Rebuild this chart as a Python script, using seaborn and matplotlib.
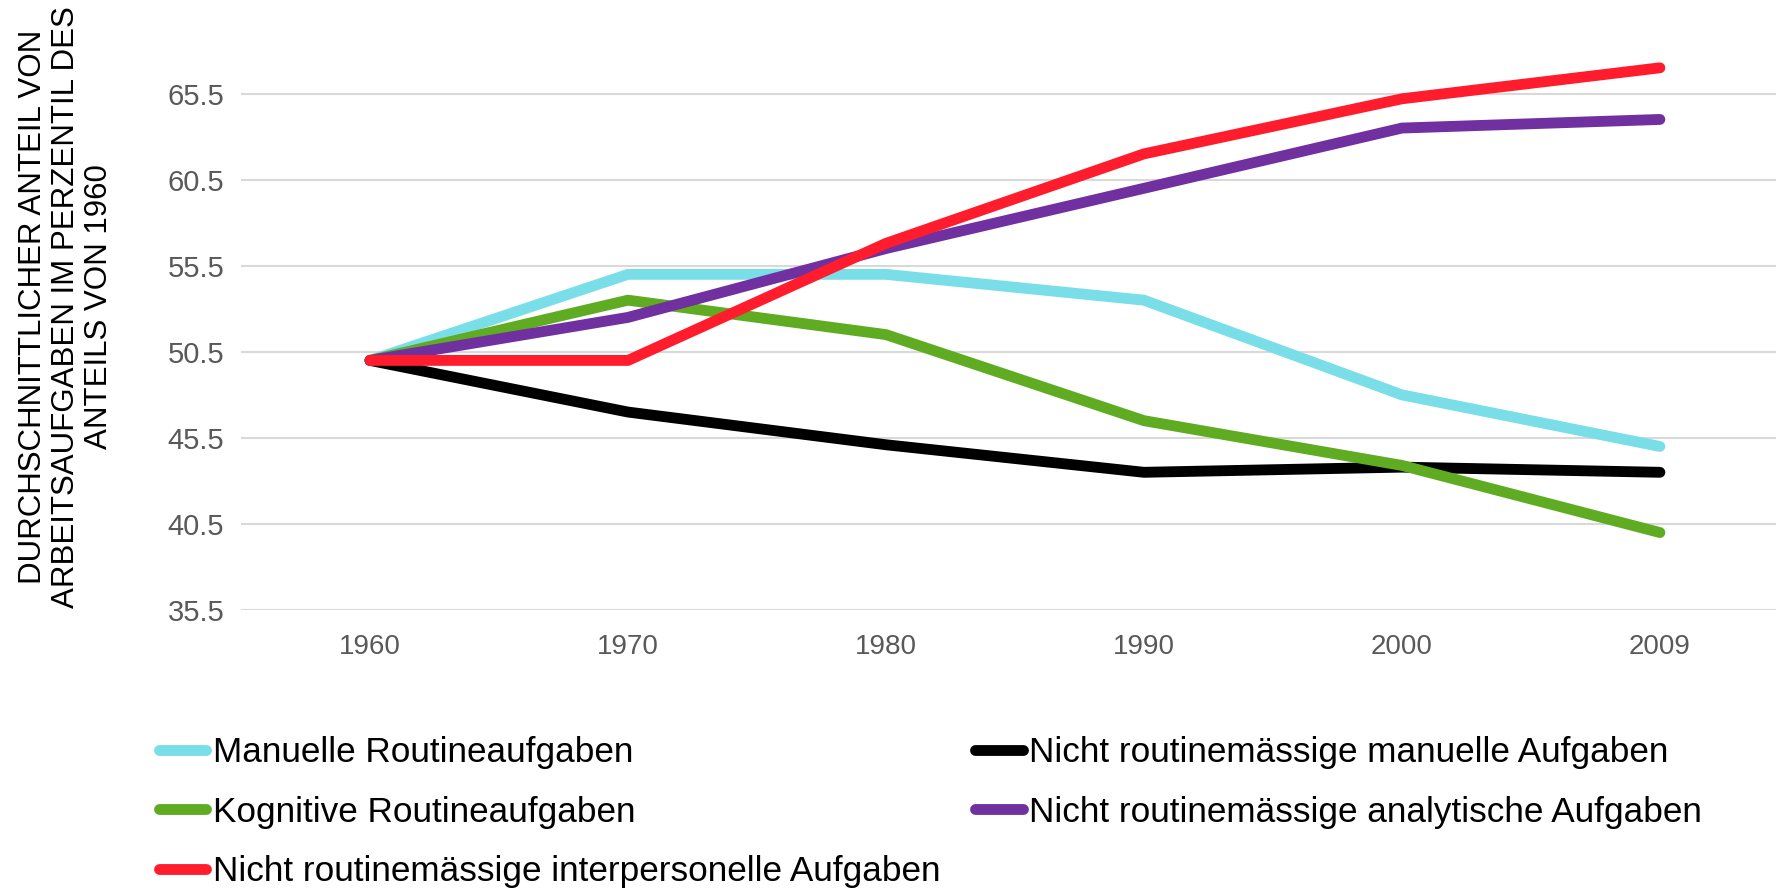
import pandas as pd
import seaborn as sns
import matplotlib.pyplot as plt
from matplotlib import font_manager

# Daten
jahre = ["1960", "1970", "1980", "1990", "2000", "2009"]
manuelle_routine = [50.0, 55.0, 55.0, 53.5, 48.0, 45.0]
nicht_routine_manuell = [50.0, 47.0, 45.1, 43.5, 43.8, 43.5]
kognitive_routine = [50.0, 53.5, 51.5, 46.5, 43.9, 40.0]
nicht_routine_analytisch = [50.0, 52.5, 56.5, 60.0, 63.5, 64.0]
nicht_routine_interpersonell = [50.0, 50.0, 56.8, 62.0, 65.2, 67.0]
y_ticks = [35.5, 40.5, 45.5, 50.5, 55.5, 60.5, 65.5]

# Zeichenreihenfolge (unten -> oben)
serien = [
    ("Manuelle Routineaufgaben", manuelle_routine, "#79DEE8"),
    ("Nicht routinemässige manuelle Aufgaben", nicht_routine_manuell, "#000000"),
    ("Kognitive Routineaufgaben", kognitive_routine, "#5FAB22"),
    ("Nicht routinemässige analytische Aufgaben", nicht_routine_analytisch, "#7030A0"),
    ("Nicht routinemässige interpersonelle Aufgaben", nicht_routine_interpersonell, "#FF1C2C"),
]
legend_order = [
    "Manuelle Routineaufgaben",
    "Kognitive Routineaufgaben",
    "Nicht routinemässige interpersonelle Aufgaben",
    "Nicht routinemässige manuelle Aufgaben",
    "Nicht routinemässige analytische Aufgaben",
]

sns.set_style("white")
plt.rcParams["font.family"] = ["Liberation Sans", "DejaVu Sans"]

installed = {f.name for f in font_manager.fontManager.ttflist}
narrow = "Liberation Sans Narrow" if "Liberation Sans Narrow" in installed else "Liberation Sans"

fig = plt.figure(figsize=(17.76, 8.88), dpi=100)
ax = fig.add_axes([241 / 1776, 1 - 610 / 888, 1 - 241 / 1776, (610 - 42) / 888])

for name, werte, farbe in serien:
    df = pd.DataFrame({"Jahr": jahre, "Wert": werte})
    sns.lineplot(data=df, x="Jahr", y="Wert", ax=ax, color=farbe, linewidth=7.8,
                 label=name, sort=False, solid_capstyle="round", solid_joinstyle="round")

ax.set_ylim(35.5, 68.5)
ax.set_xlim(-0.5, 5.45)
ax.set_yticks(y_ticks)
ax.set_yticklabels([f"{v:.1f}" for v in y_ticks])
ax.grid(axis="y", color="#D9D9D9", linewidth=1.5)
ax.grid(axis="x", visible=False)
for s in ax.spines.values():
    s.set_visible(False)
ax.tick_params(axis="both", length=0, labelcolor="#595959")
ax.tick_params(axis="y", pad=12, labelsize=21)
ax.tick_params(axis="x", pad=17, labelsize=20)
ax.set_xlabel("")
ax.set_ylabel("")

fig.text(66 / 1776, 1 - 307 / 888,
         "DURCHSCHNITTLICHER ANTEIL VON\nARBEITSAUFGABEN IM PERZENTIL DES\nANTEILS VON 1960",
         rotation=90, ha="center", va="center", multialignment="center",
         fontsize=22.5, family=[narrow, "DejaVu Sans"], linespacing=1.12,
         color="black")

handles, labels = ax.get_legend_handles_labels()
ax.get_legend().remove()
lookup = dict(zip(labels, handles))
fig.legend([lookup[l] for l in legend_order], legend_order,
           loc="upper left", bbox_to_anchor=(159 / 1776, 1 - 736 / 888),
           ncol=2, frameon=False, fontsize=25.3, handlelength=1.35,
           handletextpad=0.18, columnspacing=1.0, labelspacing=0.76,
           borderpad=0, borderaxespad=0, labelcolor="black")

fig.savefig("out.png", dpi=100)
